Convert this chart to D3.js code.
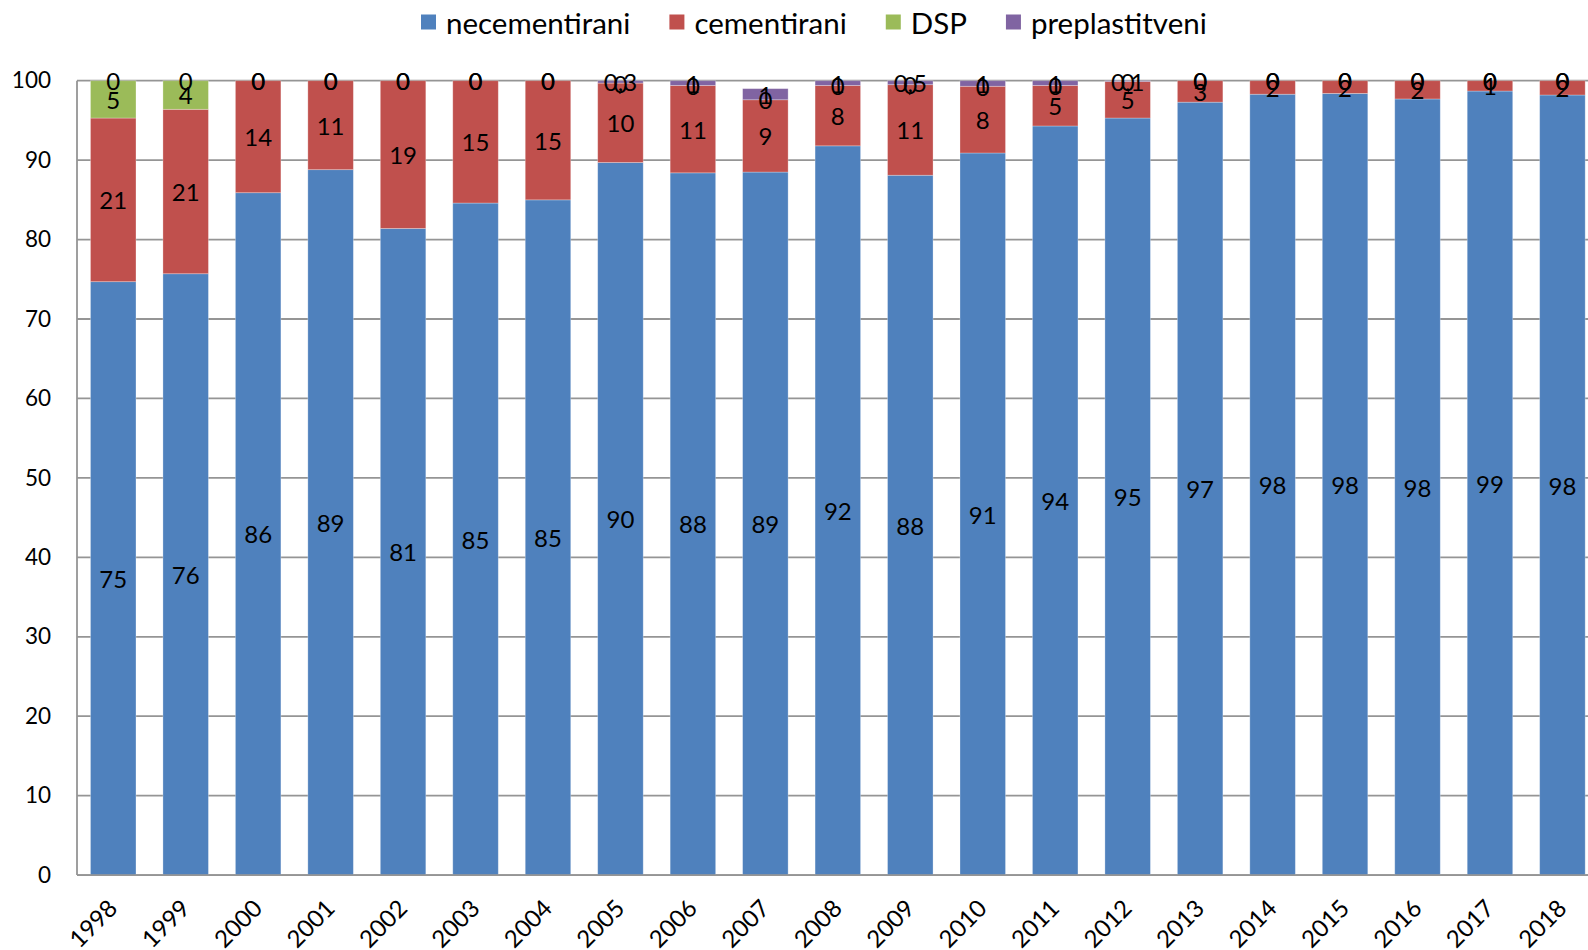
<!DOCTYPE html>
<html>
<head>
<meta charset="utf-8">
<script src="https://cdn.jsdelivr.net/npm/d3@7"></script>
<style>
  html, body { margin: 0; padding: 0; background: #fff; }
  svg { display: block; font-family: Lato, "Noto Sans", sans-serif; }
</style>
</head>
<body>
<svg id="chart" width="1588" height="950"></svg>
<script>
// ---- data ----
const years = ["1998","1999","2000","2001","2002","2003","2004","2005","2006","2007","2008",
               "2009","2010","2011","2012","2013","2014","2015","2016","2017","2018"];
const seriesNames = ["necementirani", "cementirani", "DSP", "preplastitveni"];
const necementirani = [74.7, 75.7, 85.9, 88.8, 81.4, 84.6, 85.0, 89.7, 88.4, 88.5, 91.8,
                       88.1, 90.9, 94.3, 95.3, 97.3, 98.3, 98.4, 97.7, 98.7, 98.2];
const cementirani   = [20.6, 20.7, 14.1, 11.2, 18.6, 15.4, 15.0, 10.0, 11.0, 9.1, 7.6,
                       11.4, 8.4, 5.1, 4.6, 2.7, 1.7, 1.6, 2.3, 1.3, 1.8];
const dsp           = [4.7, 3.6, 0, 0, 0, 0, 0, 0, 0, 0, 0,
                       0, 0, 0, 0, 0, 0, 0, 0, 0, 0];
const preplastitveni= [0, 0, 0, 0, 0, 0, 0, 0.3, 0.6, 1.4, 0.6,
                       0.5, 0.7, 0.6, 0.1, 0, 0, 0, 0, 0, 0];
const yTicks = [0, 10, 20, 30, 40, 50, 60, 70, 80, 90, 100];
const colors = ["#4F81BD", "#C0504D", "#9BBB59", "#8064A2"];

// ---- build table ----
const values = [necementirani, cementirani, dsp, preplastitveni];
const table = years.map((yr, i) => {
  const row = { year: yr };
  seriesNames.forEach((s, k) => row[s] = values[k][i]);
  return row;
});
const stacked = d3.stack().keys(seriesNames)(table);

// ---- layout ----
const svg = d3.select("#chart");
const plotLeft = 77, plotTop = 80.7, plotBottom = 875.1;
const step = 72.46;
const plotRight = plotLeft + step * years.length;
const gridColor = "#959595";
const x = d3.scaleBand().domain(years).range([plotLeft, plotRight])
  .paddingInner(0.372).paddingOuter(0.186);
const y = d3.scaleLinear().domain([0, 100]).range([plotBottom, plotTop]);

// gridlines
svg.append("g").selectAll("line").data(yTicks).join("line")
  .attr("x1", plotLeft).attr("x2", plotRight)
  .attr("y1", d => y(d)).attr("y2", d => y(d))
  .attr("stroke", gridColor).attr("stroke-width", 1.8);

// y axis line
svg.append("line").attr("x1", plotLeft).attr("x2", plotLeft)
  .attr("y1", y(100)).attr("y2", y(0))
  .attr("stroke", gridColor).attr("stroke-width", 1.8);

// y axis labels
const yAxis = d3.axisLeft(y).tickValues(yTicks).tickSize(0).tickPadding(26);
const gy = svg.append("g").attr("transform", `translate(${plotLeft},0)`).call(yAxis);
gy.select(".domain").remove();
gy.selectAll("text").attr("font-size", 22.5).attr("font-family", "Lato, sans-serif").attr("fill", "#000");

// bars
const layers = svg.append("g").selectAll("g").data(stacked).join("g")
  .attr("fill", (d, i) => colors[i]);
layers.selectAll("rect").data(d => d).join("rect")
  .attr("x", d => x(d.data.year))
  .attr("width", x.bandwidth())
  .attr("y", d => y(d[1]))
  .attr("height", d => Math.max(0, y(d[0]) - y(d[1])))
  .attr("stroke", "rgba(255,255,255,0.35)").attr("stroke-width", 0.8);

// x axis line
svg.append("line").attr("x1", plotLeft).attr("x2", plotRight)
  .attr("y1", y(0)).attr("y2", y(0))
  .attr("stroke", gridColor).attr("stroke-width", 1.8);

// x axis labels
const xAxis = d3.axisBottom(x).tickSize(0).tickPadding(0);
const gx = svg.append("g").attr("transform", `translate(0,${y(0)})`).call(xAxis);
gx.select(".domain").remove();
gx.selectAll("text")
  .attr("font-size", 24).attr("font-family", "Lato, sans-serif").attr("fill", "#000")
  .attr("text-anchor", "end")
  .attr("dy", null).attr("y", null)
  .attr("transform", "translate(-1,28) rotate(-45)")
  .attr("dominant-baseline", "central");

// data labels
const fmt = v => (v > 0 && v < 0.55) ? d3.format(".1f")(v).replace(".", ",") : String(Math.round(v));
const labels = svg.append("g");
stacked.forEach((layer) => {
  labels.append("g").selectAll("text").data(layer).join("text")
    .attr("x", d => x(d.data.year) + x.bandwidth() / 2)
    .attr("y", d => y((d[0] + d[1]) / 2))
    .attr("text-anchor", "middle")
    .attr("dominant-baseline", "central")
    .attr("font-size", 24)
    .attr("fill", "#000")
    .text(d => fmt(d[1] - d[0]));
});

// legend
const legend = svg.append("g").attr("transform", "translate(421,22)");
let lx = 0;
seriesNames.forEach((s, i) => {
  const g = legend.append("g").attr("transform", `translate(${lx},0)`);
  g.append("rect").attr("x", 0).attr("y", -7.5).attr("width", 15).attr("height", 15).attr("fill", colors[i]);
  const t = g.append("text").attr("x", 25).attr("y", 0)
    .attr("dominant-baseline", "central").attr("font-size", 29.5).attr("fill", "#000").text(s);
  lx += 25 + t.node().getComputedTextLength() + 39;
});
</script>
</body>
</html>
